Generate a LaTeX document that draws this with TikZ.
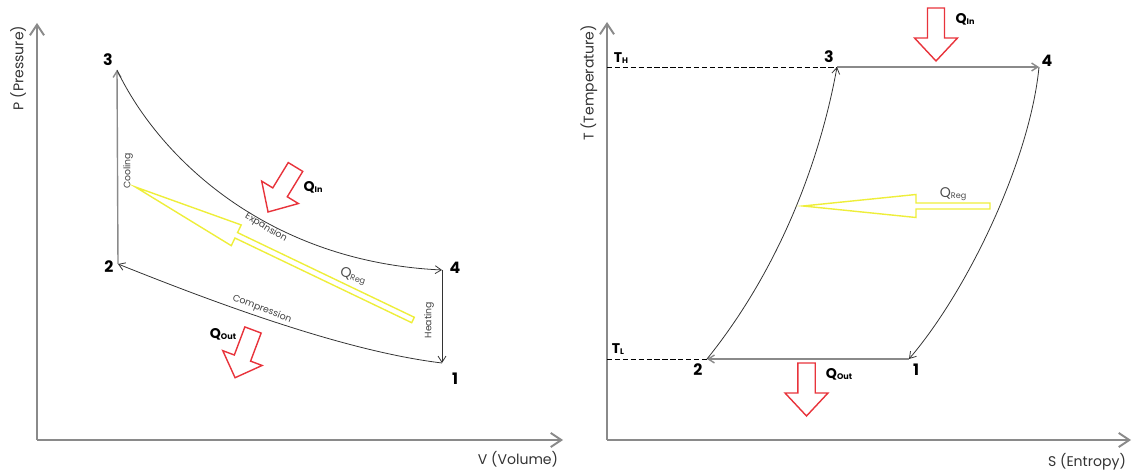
\documentclass[tikz,border=0pt]{standalone}
\usepackage{fontspec}
\setmainfont{Poppins}
\usetikzlibrary{arrows.meta}

\definecolor{asse}{HTML}{8A8A8A}
\definecolor{rosso}{HTML}{E8333B}
\definecolor{giallo}{HTML}{EEEE3A}

% freccia a blocco: stile, coda, angolo, lunghezza, mezza asta, mezza punta, lunghezza punta
\newcommand{\frecciablocco}[7]{%
  \draw[#1,shift={#2},rotate=#3]
    (0,-#5) -- ({#4-#7},-#5) -- ({#4-#7},-#6) -- (#4,0)
    -- ({#4-#7},#6) -- ({#4-#7},#5) -- (0,#5) -- cycle;}

% etichetta del calore: Q grande, pedice piccolo
\newcommand{\qcal}[1]{\textbf{Q}\raisebox{-0.6pt}{\fontsize{4.6}{5}\selectfont\textbf{#1}}}

\begin{document}
\begin{tikzpicture}[
    x=0.02cm, y=-0.02cm,
    font=\fontsize{8}{9}\selectfont,
    asse/.style={draw=asse, line width=1.1pt, -{Straight Barb[length=6pt,width=8pt]}},
    trasf/.style={draw=black!80, line width=0.45pt, -{Straight Barb[length=3.5pt,width=4.5pt]}},
    trasfg/.style={draw=asse, line width=0.8pt, -{Straight Barb[length=3.5pt,width=4.5pt]}},
    punto/.style={font=\fontsize{9}{10}\selectfont\bfseries, inner sep=0pt},
    fase/.style={font=\fontsize{5.3}{6}\selectfont, text=black!75, inner sep=0pt},
    calore/.style={draw=rosso, line width=0.8pt, fill=white},
    rigen/.style={draw=giallo, line width=0.8pt},
    qlab/.style={inner sep=0pt},
    livello/.style={draw=black, line width=0.45pt, dashed, dash pattern=on 3pt off 1.5pt},
  ]

  \useasboundingbox (0,0) rectangle (1139,475);

  % ---- diagramma P-V --------------------------------------------------------
  \coordinate (oPV) at (37,440);
  \coordinate (pTop) at (37,23);
  \coordinate (vEnd) at (563,440);
  \draw[asse] (oPV) -- (pTop);
  \draw[asse] (oPV) -- (vEnd);
  \node[rotate=90, text=black!80] (labP) at (18,68) {P (Pressure)};
  \node[text=black!80] (labV) at (518,459) {V (Volume)};

  \coordinate (a1) at (442,363);
  \coordinate (a2) at (118,264);
  \coordinate (a3) at (117,70);
  \coordinate (a4) at (442,270);

  \node[punto] (na3) at (108,60)  {3};
  \node[punto] (na2) at (109,267) {2};
  \node[punto] (na4) at (455,268) {4};
  \node[punto] (na1) at (455,379) {1};

  \draw[trasfg] (a2) -- (a3);
  \draw[trasf]  (a3) .. controls (160,160) and (270,262) .. (a4);
  \draw[trasf]  (a4) -- (a1);
  \draw[trasf]  (a1) .. controls (342,351) and (208,300) .. (a2);

  \node[fase, rotate=90]  (cool) at (128,171) {Cooling};
  \node[fase, rotate=90]  (heat) at (429,320) {Heating};
  \node[fase, rotate=-31] (espa) at (266,228) {Expansion};
  \node[fase, rotate=-21] (comp) at (262,309) {Compression};

  % calore entrante / uscente / rigenerato
  \frecciablocco{calore}{(295.5,167)}{-121.4}{52.7}{8.5}{21.5}{23}
  \frecciablocco{calore}{(253,330)}{-110.6}{51}{8.7}{21}{21}
  \frecciablocco{rigen}{(413,320)}{154.4}{308}{3}{11.5}{112}
  \node[qlab] (qinA)  at (313,187) {\qcal{In}};
  \node[qlab] (qoutA) at (223,334) {\qcal{Out}};
  \node[qlab, rotate=-18, text=black!70] (qregA) at (353,276)
    {\textmd{Q}\raisebox{-0.6pt}{\fontsize{4.6}{5}\selectfont Reg}};

  % ---- diagramma T-S --------------------------------------------------------
  \coordinate (oTS) at (607,440);
  \coordinate (tTop) at (607,22);
  \coordinate (sEnd) at (1131,440);
  \draw[asse] (oTS) -- (tTop);
  \draw[asse] (oTS) -- (sEnd);
  \node[rotate=90, text=black!80] (labT) at (589,83) {T (Temperature)};
  \node[text=black!80] (labS) at (1087,462) {S (Entropy)};

  \coordinate (b1) at (909,359);
  \coordinate (b2) at (707,359);
  \coordinate (b3) at (837,67);
  \coordinate (b4) at (1039,67);
  \coordinate (tH) at (607,67);
  \coordinate (tL) at (607,359);

  \node[punto] (nb3) at (829,57)  {3};
  \node[punto] (nb4) at (1047,61) {4};
  \node[punto] (nb2) at (698,370) {2};
  \node[punto] (nb1) at (916,370) {1};
  \node[qlab] (labTH) at (621,58)  {\textbf{T}\raisebox{-0.6pt}{\fontsize{4.6}{5}\selectfont\textbf{H}}};
  \node[qlab] (labTL) at (618,349) {\textbf{T}\raisebox{-0.6pt}{\fontsize{4.6}{5}\selectfont\textbf{L}}};

  \draw[livello] (tH) -- (b3);
  \draw[livello] (tL) -- (b2);

  \draw[trasfg] (b3) -- (b4);
  \draw[trasf]  (b4) .. controls (1030,160) and (968,290) .. (b1);
  \draw[trasfg] (b1) -- (b2);
  \draw[trasf]  (b2) .. controls (785,262) and (822,150) .. (b3);

  \frecciablocco{calore}{(936,8)}{-90}{53}{8.5}{21.5}{23}
  \frecciablocco{calore}{(806.5,363)}{-90}{53}{8.7}{21.5}{23}
  \frecciablocco{rigen}{(990,206)}{180}{187}{3}{11.5}{113}
  \node[qlab] (qinB)  at (965,19)  {\qcal{In}};
  \node[qlab] (qoutB) at (839,374) {\qcal{Out}};
  \node[qlab, text=black!70] (qregB) at (953,194)
    {\textmd{Q}\raisebox{-0.6pt}{\fontsize{4.6}{5}\selectfont Reg}};

\end{tikzpicture}
\end{document}
